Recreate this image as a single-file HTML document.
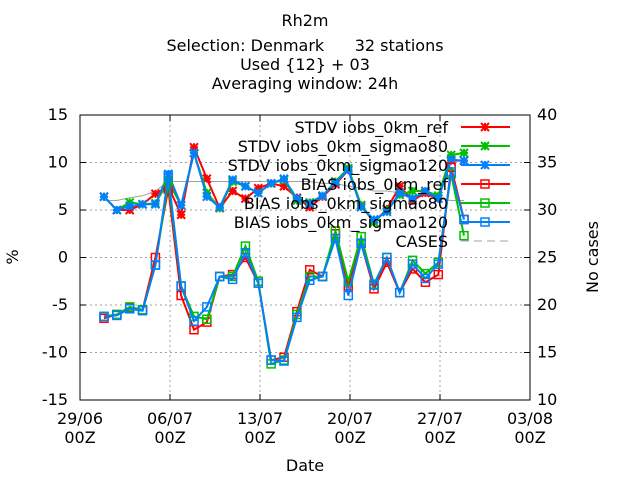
<!DOCTYPE html>
<html><head><meta charset="utf-8"><style>
body{margin:0;background:#fff}
svg text{font-family:"DejaVu Sans","Liberation Sans",sans-serif;font-size:16px;fill:#000}
</style></head><body>
<svg id="chart" width="640" height="480" xmlns="http://www.w3.org/2000/svg">
<rect width="640" height="480" fill="#fff"/>
<g text-anchor="middle">
<text x="305" y="26">Rh2m</text>
<text x="305" y="51" xml:space="preserve">Selection: Denmark      32 stations</text>
<text x="305" y="70">Used {12} + 03</text>
<text x="305" y="89">Averaging window: 24h</text>
</g>
<g id="grid"></g>
<g id="axes"></g>
<g id="series"></g>
<g id="legend"></g>
<text x="305" y="471" text-anchor="middle">Date</text>
<text transform="translate(18,257) rotate(-90)" text-anchor="middle">%</text>
<text transform="translate(598,257) rotate(-90)" text-anchor="middle">No cases</text>
</svg>
<script>
const xTickLabels=["29/06","06/07","13/07","20/07","27/07","03/08"];
const yTicks=[-15,-10,-5,0,5,10,15];
const y2Ticks=[10,15,20,25,30,35,40];
const dayIdx=[0,1,2,3,4,5,6,7,8,9,10,11,12,13,14,15,16,17,18,19,20,21,22,23,24,25,26,27,28];
const stdvRef=[6.4,5.0,5.0,5.6,6.7,7.5,4.5,11.6,8.3,5.2,7.0,6.2,7.3,7.8,7.5,6.3,5.3,6.4,7.7,9.2,5.5,3.7,5.1,7.5,6.0,6.8,6.2,10.2,10.2];
const stdvS80=[6.4,5.0,5.8,5.6,5.7,8.0,5.5,11.0,6.8,5.2,8.0,7.5,6.8,7.8,8.2,6.0,5.8,6.5,8.0,9.4,5.5,3.7,5.0,6.6,7.0,7.0,6.5,10.8,11.0];
const stdvS120=[6.4,5.0,5.4,5.6,5.6,8.8,5.5,11.0,6.4,5.3,8.2,7.5,6.8,7.8,8.3,6.2,5.7,6.5,7.9,9.2,5.3,4.0,4.8,6.8,6.2,7.0,6.2,10.3,10.2];
const biasRef=[-6.4,-6.0,-5.3,-5.5,0.0,7.2,-4.0,-7.6,-6.8,-2.0,-1.8,0.0,-2.7,-10.8,-10.5,-5.7,-1.3,-2.0,2.5,-3.0,1.5,-3.3,-0.5,-3.7,-1.2,-2.6,-1.8,9.5,4.0];
const biasS80=[-6.2,-6.0,-5.2,-5.5,-0.8,8.0,-3.0,-6.2,-6.5,-2.0,-2.0,1.2,-2.5,-11.2,-10.8,-6.0,-2.0,-2.0,2.8,-2.5,2.2,-2.8,0.0,-3.7,-0.3,-1.7,-0.5,8.8,2.3];
const biasS120=[-6.2,-6.1,-5.4,-5.6,-0.8,8.6,-3.0,-6.7,-5.2,-2.0,-2.3,0.5,-2.7,-10.8,-10.9,-6.3,-2.4,-2.0,2.0,-4.0,1.5,-2.9,0.0,-3.7,-0.7,-2.2,-0.7,9.0,4.0];
const cases=[31,31,31.3,31.5,32,33,33,33,33,33,33,33,33,33,33,33,33,32.8,32.8,32.5,32.3,32,32,31.8,31.5,31.5,31.2,31,31];
const seriesNames=["STDV iobs_0km_ref","STDV iobs_0km_sigmao80","STDV iobs_0km_sigmao120","BIAS iobs_0km_ref","BIAS iobs_0km_sigmao80","BIAS iobs_0km_sigmao120","CASES"];

const NS="http://www.w3.org/2000/svg";
const L=80,R=530,T=115,B=400;
const X=d=>104+d*(90/7);
const Y=v=>B-(v+15)*(B-T)/30;
const Y2=v=>B-(v-10)*(B-T)/30;
function mk(tag,attrs,parent){const e=document.createElementNS(NS,tag);for(const k in attrs)e.setAttribute(k,attrs[k]);parent.appendChild(e);return e;}
const grid=document.getElementById('grid'),axes=document.getElementById('axes'),ser=document.getElementById('series'),leg=document.getElementById('legend');
yTicks.forEach((v,i)=>{const y=Y(v);
 if(i>0&&i<yTicks.length-1){const g=mk('line',{x1:L,x2:R,y1:y,y2:y,stroke:'#a0a0a0','stroke-dasharray':'2,3'},grid);}
 mk('line',{x1:L,x2:L+6,y1:y,y2:y,stroke:'#000'},axes);
 const t=mk('text',{x:68,y:y+5,'text-anchor':'end'},axes);t.textContent=v;
 });
y2Ticks.forEach(v=>{const y=Y2(v);mk('line',{x1:R-6,x2:R,y1:y,y2:y,stroke:'#000'},axes);
 const t=mk('text',{x:537,y:y+5},axes);t.textContent=v;
 });
xTickLabels.forEach((s,i)=>{const x=L+i*90;
 if(i>0&&i<xTickLabels.length-1){const g=mk('line',{x1:x,x2:x,y1:T,y2:B,stroke:'#a0a0a0','stroke-dasharray':'2,3'},grid);}
 mk('line',{x1:x,x2:x,y1:B,y2:B-6,stroke:'#000'},axes);mk('line',{x1:x,x2:x,y1:T,y2:T+6,stroke:'#000'},axes);
 const t=mk('text',{x:x,y:424,'text-anchor':'middle'},axes);t.textContent=s;
 
 const t2=mk('text',{x:x,y:443,'text-anchor':'middle'},axes);t2.textContent="00Z";
 });
mk('rect',{x:L,y:T,width:R-L,height:B-T,fill:'none',stroke:'#000'},axes);

function star(g,x,y,c){mk('path',{d:`M${x-4},${y-4}L${x+4},${y+4}M${x-4},${y+4}L${x+4},${y-4}M${x-4},${y}L${x+4},${y}M${x},${y-4}L${x},${y+4}`,stroke:c,'stroke-width':2},g);}
function box(g,x,y,c){mk('rect',{x:x-4,y:y-4,width:8,height:8,fill:'none',stroke:c,'stroke-width':1.5},g);}
const defs=[[stdvRef,'#ff0000',star],[stdvS80,'#00c000',star],[stdvS120,'#0080ff',star],[biasRef,'#ff0000',box],[biasS80,'#00c000',box],[biasS120,'#0080ff',box]];
const cg=mk('g',{},ser);
mk('polyline',{points:cases.map((v,i)=>X(dayIdx[i]).toFixed(1)+','+Y2(v).toFixed(1)).join(' '),fill:'none',stroke:'#a0a0a0','stroke-width':1},cg);
defs.forEach(([vals,c,m],k)=>{
 const g=mk('g',{},ser);
 const pts=vals.map((v,i)=>X(dayIdx[i]).toFixed(1)+','+Y(v).toFixed(1)).join(' ');
 mk('polyline',{points:pts,fill:'none',stroke:c,'stroke-width':2},g);
 vals.forEach((v,i)=>m(g,X(dayIdx[i]),Y(v),c));
 const ly=127+k*19;
 const lt=mk('text',{x:448,y:ly+6,'text-anchor':'end'},leg);lt.textContent=seriesNames[k];
 
 mk('line',{x1:461,x2:510,y1:ly,y2:ly,stroke:c,'stroke-width':2},leg);m(leg,485,ly,c);
});
const cy=127+6*19;
const ct=mk('text',{x:448,y:cy+6,'text-anchor':'end'},leg);ct.textContent=seriesNames[6];

mk('line',{x1:461,x2:510,y1:cy,y2:cy,stroke:'#a0a0a0','stroke-dasharray':'8,5'},leg);
</script>
</body></html>
